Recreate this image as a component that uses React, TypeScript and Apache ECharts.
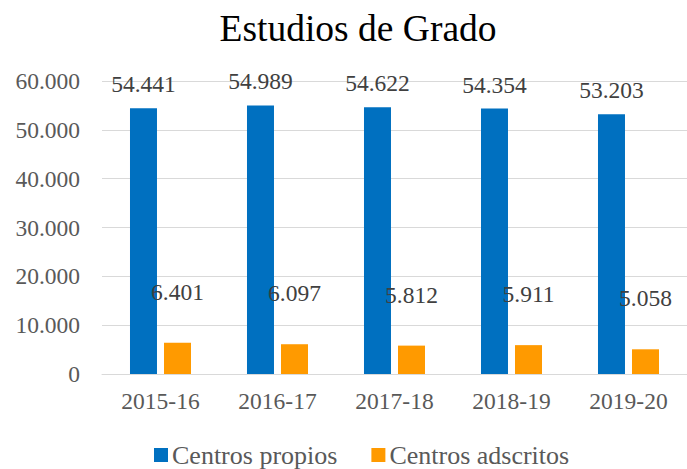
import React, { useEffect, useRef } from "react";
import * as echarts from "echarts";

const categories = ["2015-16", "2016-17", "2017-18", "2018-19", "2019-20"];
const propios = [54441, 54989, 54622, 54354, 53203];
const adscritos = [6401, 6097, 5812, 5911, 5058];
const seriesNames = ["Centros propios", "Centros adscritos"];
const title = "Estudios de Grado";

const fmt = (v: number) => {
  const s = Math.round(v).toString();
  return s.replace(/\B(?=(\d{3})+(?!\d))/g, ".");
};

const FONT = "Liberation Serif";

export default function App() {
  const ref = useRef<HTMLDivElement>(null);
  useEffect(() => {
    if (!ref.current) return;
    const chart = echarts.init(ref.current, null, { renderer: "svg" });
    chart.setOption({
      animation: false,
      textStyle: { fontFamily: FONT },
      title: {
        text: title,
        left: 353,
        textAlign: "center",
        top: 4,
        textStyle: { fontFamily: FONT, fontSize: 37.5, fontWeight: "normal", color: "#000" },
      },
      legend: {
        top: 437,
        left: 149,
        itemWidth: 14,
        itemHeight: 14,
        itemGap: 34,
        icon: "rect",
        textStyle: { fontFamily: FONT, fontSize: 26, color: "#595959", padding: [0, 0, 0, -1] },
        data: seriesNames,
      },
      grid: { left: 102, right: 0, top: 81, bottom: 95, containLabel: false },
      xAxis: {
        type: "category",
        data: categories,
        axisLine: { lineStyle: { color: "#d9d9d9", width: 1 } },
        axisTick: { show: false },
        axisLabel: { fontFamily: FONT, fontSize: 23.5, color: "#595959", margin: 15 },
      },
      yAxis: {
        type: "value",
        min: 0,
        max: 60000,
        interval: 10000,
        axisLine: { show: false },
        axisTick: { show: false },
        splitLine: { lineStyle: { color: "#d9d9d9", width: 1 } },
        axisLabel: {
          fontFamily: FONT,
          fontSize: 23.5,
          color: "#595959",
          margin: 22,
          formatter: (v: number) => fmt(v),
        },
      },
      series: [
        {
          name: seriesNames[0],
          type: "bar",
          data: propios,
          barWidth: 27,
          barGap: "26%",
          itemStyle: { color: "#0070C0" },
          label: {
            show: true,
            position: "top",
            distance: 12,
            fontFamily: FONT,
            fontSize: 23.5,
            color: "#404040",
            formatter: (p: any) => fmt(p.value),
          },
        },
        {
          name: seriesNames[1],
          type: "bar",
          data: adscritos,
          barWidth: 27,
          itemStyle: { color: "#FF9A00" },
          label: {
            show: true,
            position: "top",
            distance: 39,
            fontFamily: FONT,
            fontSize: 23.5,
            color: "#404040",
            formatter: (p: any) => fmt(p.value),
          },
        },
      ],
    });
    return () => chart.dispose();
  }, []);
  return <div ref={ref} style={{ width: 687, height: 469, position: "absolute", left: 0, top: 0 }} />;
}
